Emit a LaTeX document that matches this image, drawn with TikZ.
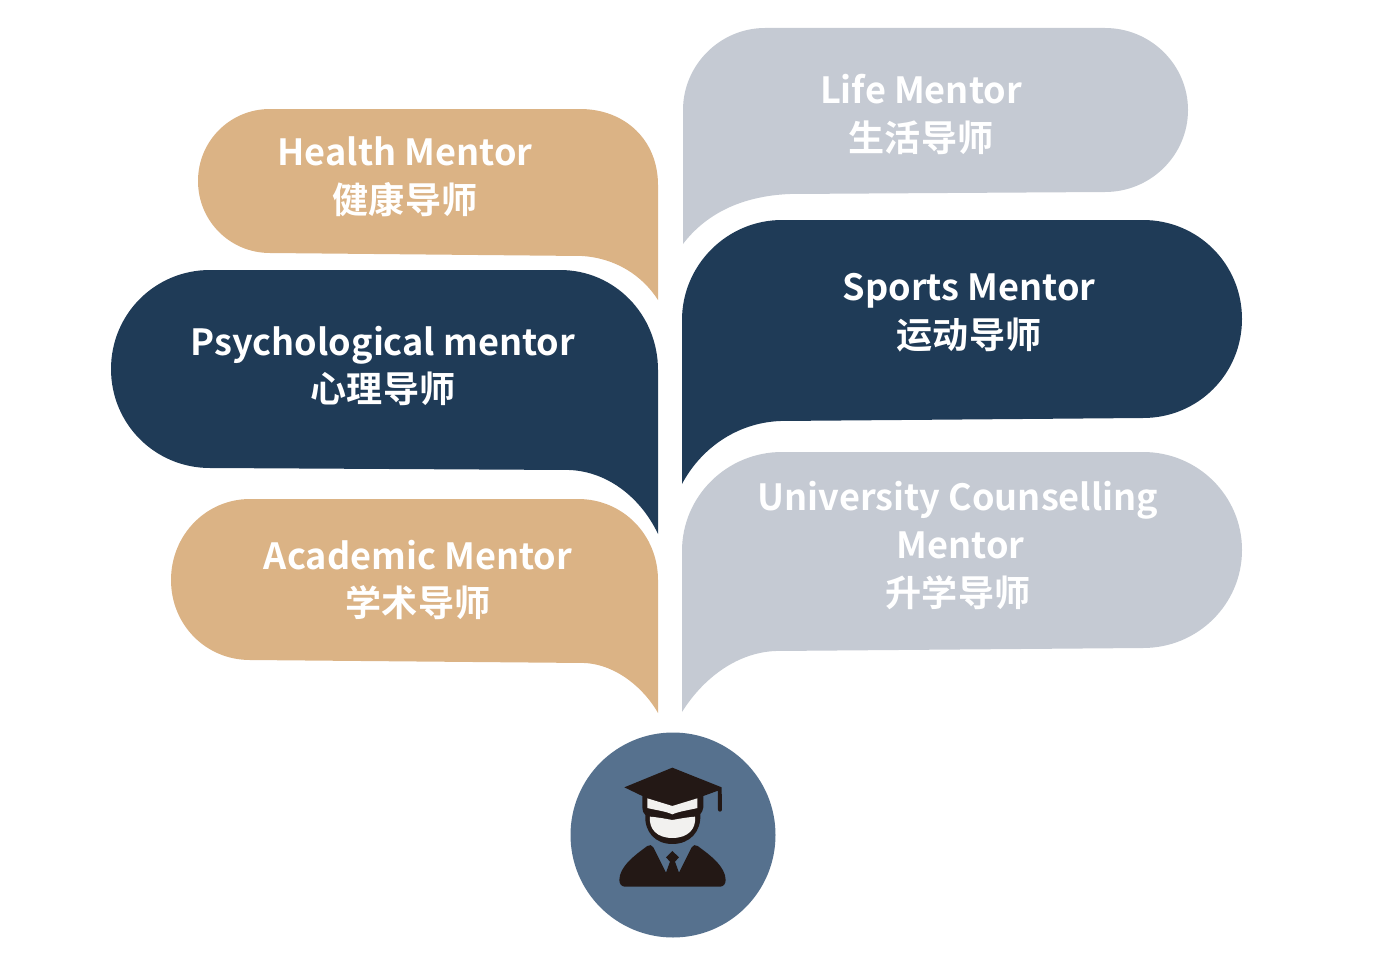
\documentclass[tikz,border=0pt]{standalone}
\usepackage{fontspec}
\setmainfont{Noto Sans CJK SC}[BoldFont={Noto Sans CJK SC Bold}]
\definecolor{tan}{HTML}{DBB385}
\definecolor{navy}{HTML}{1F3B57}
\definecolor{mist}{HTML}{C5CAD3}
\definecolor{disc}{HTML}{56718E}
\definecolor{ink}{HTML}{231815}
\definecolor{pale}{HTML}{F2F1EF}
\tikzset{
  label text/.style={text=white,align=center,inner sep=0pt,font=\fontsize{36.1}{47.7}\selectfont\bfseries},
}
\begin{document}
\begin{tikzpicture}[x=1pt,y=-1pt]
\useasboundingbox (0,0) rectangle (1400,966);
% left bubbles
\fill[tan] (658,300) -- (658,185) .. controls (658,140) and (625,109) .. (580,109)
  -- (270,109) .. controls (230,109) and (198,141) .. (198,181)
  .. controls (198,221) and (230,253) .. (270,253) -- (582,256)
  .. controls (615,258) and (642,275) .. (658,300) -- cycle;
\fill[navy] (658,534) -- (658,370) .. controls (658,315) and (615,270) .. (560,270)
  -- (210,270) .. controls (155,270) and (111,314) .. (111,369)
  .. controls (111,424) and (155,468) .. (210,468) -- (570,470)
  .. controls (610,472) and (642,500) .. (658,534) -- cycle;
\fill[tan] (658,713) -- (658,580) .. controls (658,535) and (623,499) .. (578,499)
  -- (250,499) .. controls (206,499) and (171,535) .. (171,580)
  .. controls (171,625) and (206,660) .. (250,660) -- (585,663)
  .. controls (618,665) and (645,690) .. (658,713) -- cycle;
% right bubbles
\fill[mist] (683,244) -- (683,110) .. controls (683,65) and (720,28) .. (765,28)
  -- (1105,28) .. controls (1151,28) and (1188,65) .. (1188,110)
  .. controls (1188,155) and (1151,192) .. (1105,192) -- (790,194)
  .. controls (740,196) and (705,215) .. (683,244) -- cycle;
\fill[navy] (682,484) -- (682,320) .. controls (682,265) and (727,220) .. (782,220)
  -- (1143,220) .. controls (1198,220) and (1242,264) .. (1242,319)
  .. controls (1242,374) and (1198,418) .. (1143,418) -- (780,421)
  .. controls (735,423) and (700,450) .. (682,484) -- cycle;
\fill[mist] (682,712) -- (682,551) .. controls (682,496) and (727,452) .. (782,452)
  -- (1143,452) .. controls (1198,452) and (1242,496) .. (1242,550)
  .. controls (1242,604) and (1198,648) .. (1143,648) -- (775,651)
  .. controls (735,653) and (702,680) .. (682,712) -- cycle;
% labels
\node[label text] (health) at (405,177) {Health Mentor\\健康导师};
\node[label text] (psych) at (383,366) {Psychological mentor\\心理导师};
\node[label text] (academic) at (418,580) {Academic Mentor\\学术导师};
\node[label text] (life) at (921,114.5) {Life Mentor\\生活导师};
\node[label text] (sports) at (969,312.5) {Sports Mentor\\运动导师};
\node[label text] (univ) at (958,545.5) {University Counselling\\\hspace{5pt}Mentor\\升学导师\hspace{4pt}};
% mentor icon
\fill[disc] (673,835) circle [radius=102.5];
\begin{scope}[shift={(560,720)},x=0.3333pt,y=-0.3333pt]
  % cap and head outline
  \fill[ink] (193,202) -- (337,143) -- (485,202) [rounded corners=2pt] -- (486,275) -- (474,275) [sharp corners] -- (474,212)
    -- (430,228) -- (430,262) .. controls (430,272) and (424,278) .. (421,282)
    .. controls (424,335) and (390,372) .. (337,372)
    .. controls (285,372) and (253,335) .. (256,285)
    .. controls (250,280) and (247,272) .. (247,262) -- (247,228) -- cycle;
  \fill[pale] (262,235) -- (337,258) -- (412,235) -- (412,264)
    .. controls (390,270) and (360,273) .. (337,283)
    .. controls (315,273) and (285,270) .. (262,264) -- cycle;
  \fill[pale] (270,290) .. controls (295,292) and (315,296) .. (337,300)
    .. controls (360,296) and (380,292) .. (405,290)
    .. controls (409,326) and (385,354) .. (337,354)
    .. controls (290,354) and (266,326) .. (270,290) -- cycle;
  % body
  \fill[ink] (262,378) .. controls (268,374) and (276,374) .. (280,382)
    -- (318,458) -- (330,425) -- (318,412) -- (337,393) -- (357,412) -- (345,425) -- (357,458)
    -- (395,382) .. controls (398,374) and (408,374) .. (413,378)
    .. controls (450,405) and (497,440) .. (497,480)
    .. controls (497,492) and (490,500) .. (480,500)
    -- (195,500) .. controls (185,500) and (178,492) .. (178,480)
    .. controls (178,440) and (225,405) .. (262,378) -- cycle;
\end{scope}
\end{tikzpicture}
\end{document}
